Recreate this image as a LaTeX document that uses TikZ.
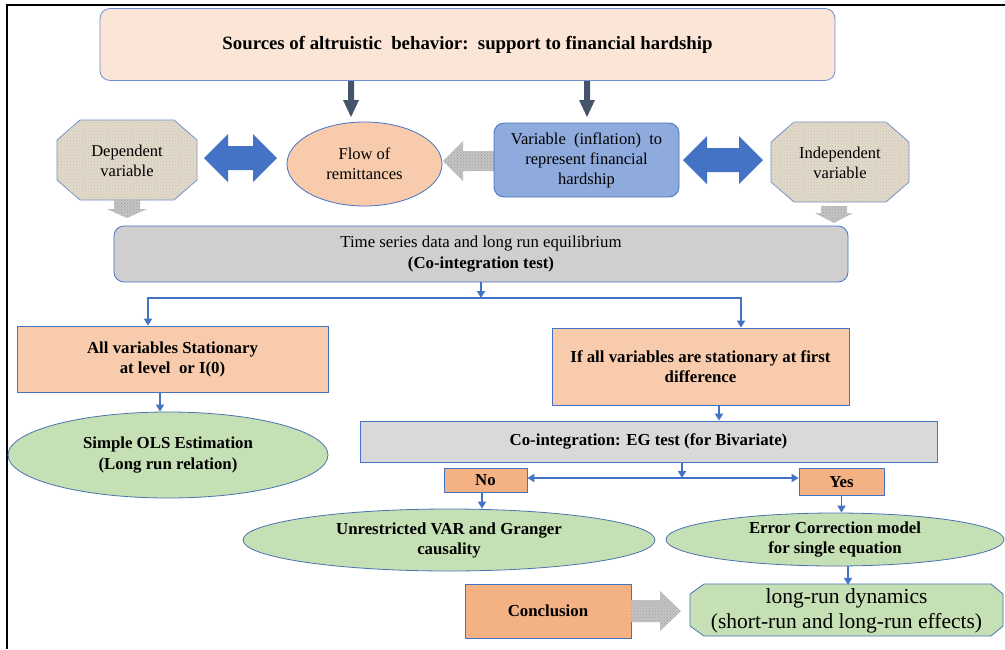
\documentclass[tikz,border=0pt]{standalone}
\usepackage{fontspec}
\setmainfont{Liberation Serif}
\usetikzlibrary{arrows.meta,shapes.geometric,patterns,calc}
\definecolor{bl}{HTML}{4472C4}
\definecolor{bdr}{HTML}{6F8FCF}
\definecolor{peachL}{HTML}{FBE5D6}
\definecolor{peach}{HTML}{F8CBAD}
\definecolor{orng}{HTML}{F4B183}
\definecolor{blueF}{HTML}{8FAADC}
\definecolor{grayBox}{HTML}{D0CECE}
\definecolor{grayEG}{HTML}{D9D9D9}
\definecolor{greenF}{HTML}{C5E0B4}
\definecolor{greenB}{HTML}{4A72B0}
\definecolor{darkarr}{HTML}{44546A}
\definecolor{beige}{HTML}{E2DACA}
\definecolor{beigeP}{HTML}{C9BEAB}
\definecolor{grayArr}{HTML}{C4C4C4}
\begin{document}
\begin{tikzpicture}[x=1pt,y=-1pt,
  every node/.style={font=\fontsize{16.5pt}{20pt}\selectfont, align=center, inner sep=0pt},
  boxb/.style={draw=bl, line width=0.8pt},
  bft/.style={font=\bfseries\fontsize{16.8pt}{20pt}\selectfont},
  conn/.style={draw=bl, line width=1.8pt, -{Triangle[length=7pt,width=8pt]}},
  octo/.style={draw=bdr, line width=0.8pt, fill=beige, postaction={pattern=crosshatch dots, pattern color=beigeP}},
  grayarrow/.style={fill=grayArr, postaction={pattern=crosshatch dots, pattern color=gray!75}},
  bluearrow/.style={fill=bl},
  darkarrow/.style={fill=darkarr}]
\useasboundingbox (0,0) rectangle (1005,649);
\fill[white] (0,0) rectangle (1005,649);
\draw[line width=1.6pt] (7,649) -- (7,5) -- (1005,5);

% top box
\node[draw=bdr, line width=0.8pt, fill=peachL, rounded corners=10pt, minimum width=735pt, minimum height=72pt, font=\bfseries\fontsize{18.8pt}{22pt}\selectfont] (src) at (467.5,44.5) {Sources of altruistic\ \ behavior:\ \ support to financial hardship};

% dark arrows
\fill[darkarrow] (348,81) -- (354,81) -- (354,100) -- (359,100) -- (351,117) -- (343,100) -- (348,100) -- cycle;
\fill[darkarrow] (584,81) -- (590,81) -- (590,100) -- (595,100) -- (587,117) -- (579,100) -- (584,100) -- cycle;

% left octagon
\draw[octo] (80,120) -- (174,120) -- (197,140) -- (197,180) -- (174,200) -- (80,200) -- (57,180) -- (57,140) -- cycle;
\node (dep) at (127,161) {Dependent\\variable};

% blue double arrow 1
\fill[bluearrow] (204,158) -- (228,134) -- (228,146) -- (253,146) -- (253,134) -- (277,158) -- (253,182) -- (253,170) -- (228,170) -- (228,182) -- cycle;

% flow ellipse
\node[ellipse, boxb, fill=peach, minimum width=155pt, minimum height=84pt] (flow) at (364.5,164) {Flow of\\remittances};

% gray left arrow
\fill[grayarrow] (443,161) -- (463,141) -- (463,151) -- (496,151) -- (496,171) -- (463,171) -- (463,181) -- cycle;

% blue box
\node[boxb, fill=blueF, rounded corners=10pt, minimum width=185pt, minimum height=74pt] (infl) at (586.5,160) {Variable\ \ (inflation)\ \ to\\represent financial\\hardship};

% blue double arrow 2
\fill[bluearrow] (683,160) -- (707,136) -- (707,148) -- (739,148) -- (739,136) -- (763,160) -- (739,184) -- (739,172) -- (707,172) -- (707,184) -- cycle;

% right octagon
\draw[octo] (794,122) -- (886,122) -- (909,142) -- (909,182) -- (886,202) -- (794,202) -- (771,182) -- (771,142) -- cycle;
\node (indep) at (840,163) {Independent\\variable};

% gray down arrows
\fill[grayarrow] (114,200) -- (140,200) -- (140,209) -- (147,209) -- (127,218) -- (107,209) -- (114,209) -- cycle;
\fill[grayarrow] (821,206) -- (847,206) -- (847,213) -- (853,213) -- (834,223) -- (815,213) -- (821,213) -- cycle;

% time series box
\node[boxb, fill=grayBox, rounded corners=10pt, minimum width=734pt, minimum height=56pt, font=\fontsize{16.8pt}{21pt}\selectfont] (ts) at (481,254) {Time series data and long run equilibrium\\\textbf{(Co-integration test)}};

% stationary boxes
\node[boxb, fill=peach, minimum width=311pt, minimum height=66pt, bft] (stat) at (172.5,359) {All variables Stationary\\at level\ \ or I(0)};
\node[boxb, fill=peach, minimum width=297pt, minimum height=77pt, bft] (ifb) at (700.5,366.5) {If all variables are stationary at first\\difference};

% OLS ellipse
\node[ellipse, draw=greenB, line width=0.8pt, fill=greenF, minimum width=320pt, minimum height=86pt, font=\bfseries\fontsize{16.8pt}{21pt}\selectfont] (ols) at (168,455) {Simple OLS Estimation\\(Long run relation)};

% EG box
\node[boxb, fill=grayEG, minimum width=577pt, minimum height=41pt, bft] (eg) at (648.5,441.5) {Co-integration: EG test (for Bivariate)};

% No / Yes
\node[boxb, fill=orng, minimum width=83pt, minimum height=24pt, bft] (no) at (485.5,480) {No};
\node[boxb, fill=orng, minimum width=85pt, minimum height=27pt, bft] (yes) at (841.5,482) {Yes};

% VAR and ECM ellipses
\node[ellipse, draw=greenB, line width=0.8pt, fill=greenF, minimum width=412pt, minimum height=62pt, bft] (var) at (449,540) {Unrestricted VAR and Granger\\causality};
\node[ellipse, draw=greenB, line width=0.8pt, fill=greenF, minimum width=338pt, minimum height=53pt, bft] (ecm) at (835,539.5) {Error Correction model\\for single equation};

% conclusion
\node[boxb, fill=orng, minimum width=166pt, minimum height=54pt, bft] (concl) at (548,611) {Conclusion};

% gray right arrow
\fill[grayarrow] (631,600) -- (660,600) -- (660,591) -- (681,611) -- (660,631) -- (660,622) -- (631,622) -- cycle;

% long-run dynamics shape
\draw[draw=greenB, line width=0.8pt, fill=greenF] (704,584) -- (991,584) -- (1003,594) -- (1003,626) -- (991,636) -- (704,636) -- (690,626) -- (690,594) -- cycle;
\node[minimum width=313pt, minimum height=52pt, font=\fontsize{21.5pt}{25pt}\selectfont] (lrd) at (846.5,611) {long-run dynamics\\(short-run and long-run effects)};

% connectors
\coordinate (s1) at (481,298);
\draw[conn] (ts.south) -- (s1);
\draw[conn] (s1) -| ([xshift=-24.5pt]stat.north);
\draw[conn] (s1) -| ([xshift=40.5pt]ifb.north);
\draw[conn] ([xshift=-12.5pt]stat.south) -- ([xshift=-12.5pt]stat.south |- ols.north);
\draw[conn] ([xshift=18.5pt]ifb.south) -- ([xshift=18.5pt]ifb.south |- eg.north);
\coordinate (s2) at (682,478);
\draw[conn] ([xshift=33.5pt]eg.south) -- (s2);
\draw[conn] (s2) -- (no.east |- s2);
\draw[conn] (s2) -- (yes.west |- s2);
\draw[conn] ([xshift=-3.5pt]no.south) -- ([xshift=-3.5pt]no.south |- var.north);
\draw[conn] (yes.south) -- (yes.south |- ecm.north);
\draw[conn] ([xshift=13pt]ecm.south) -- ([xshift=13pt]ecm.south |- lrd.north);
\end{tikzpicture}
\end{document}
